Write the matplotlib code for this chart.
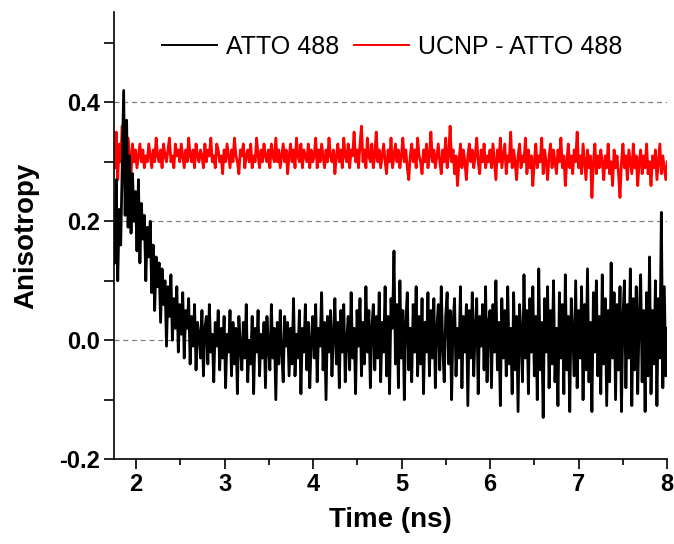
import numpy as np
from matplotlib import pyplot as plt
from matplotlib.ticker import MultipleLocator

# ATTO 488 anisotropy (1.76 ns .. 8.0 ns)
atto = [
        0.13, 0.27, 0.10, 0.22, 0.16, 0.29, 0.42, 0.21, 0.37, 0.19, 0.31, 0.18, 0.28, 0.20, 0.25,
        0.15, 0.27, 0.13, 0.23, 0.17, 0.21, 0.10, 0.19, 0.14, 0.20, 0.08, 0.16, 0.05, 0.14, 0.09,
        0.13, 0.03, 0.12, 0.06, 0.10, -0.01, 0.09, 0.04, 0.11, 0.00, 0.07, 0.02, 0.09, -0.02, 0.06,
        0.01, 0.08, -0.03, 0.05, 0.02, 0.07, -0.04, 0.04, -0.01, 0.06, -0.05, 0.03, 0.01, -0.03, 0.05,
        -0.06, 0.02, 0.04, -0.04, 0.06, -0.02, 0.01, -0.07, 0.03, -0.01, 0.05, -0.05, 0.02, -0.03, 0.04,
        -0.08, 0.01, -0.02, 0.05, -0.06, 0.03, -0.04, 0.02, -0.09, 0.04, -0.01, -0.05, 0.03, -0.03, 0.06,
        -0.07, 0.00, -0.04, 0.04, -0.09, 0.02, -0.02, 0.05, -0.06, 0.01, -0.03, 0.03, -0.08, 0.04, -0.01,
        -0.05, 0.06, -0.03, 0.02, -0.10, 0.03, -0.04, 0.05, -0.02, -0.07, 0.04, -0.01, 0.03, -0.06, 0.02,
        -0.04, 0.07, -0.06, 0.01, -0.03, 0.05, -0.09, 0.02, -0.02, 0.06, -0.05, 0.03, -0.08, 0.00, 0.04,
        -0.03, 0.06, -0.07, 0.02, -0.01, 0.08, -0.05, 0.03, -0.10, 0.04, -0.02, 0.05, -0.06, 0.01, 0.07,
        -0.04, 0.03, -0.08, 0.05, -0.02, 0.06, -0.07, 0.00, 0.04, -0.05, 0.08, -0.03, 0.02, -0.09, 0.05,
        -0.01, 0.07, -0.06, 0.03, -0.04, 0.09, -0.02, 0.05, -0.08, 0.02, 0.06, -0.05, 0.04, -0.03, 0.08,
        -0.07, 0.03, -0.02, 0.09, -0.06, 0.04, -0.09, 0.07, 0.02, 0.15, -0.04, 0.06, -0.08, 0.10, -0.03,
        0.05, -0.10, 0.03, 0.08, -0.05, 0.02, -0.07, 0.06, -0.02, 0.09, -0.06, 0.04, -0.04, 0.07, -0.09,
        0.03, -0.02, 0.08, -0.06, 0.05, -0.03, 0.07, -0.08, 0.02, 0.06, -0.05, 0.09, -0.01, -0.07, 0.04,
        0.08, -0.04, 0.05, -0.10, 0.03, 0.07, -0.06, 0.02, -0.03, 0.09, -0.08, 0.04, -0.02, 0.06, -0.11,
        0.05, -0.03, 0.08, -0.06, 0.02, 0.07, -0.09, 0.04, -0.01, 0.06, -0.05, 0.09, -0.07, 0.03, 0.05,
        -0.08, 0.06, -0.02, 0.10, -0.05, 0.03, -0.11, 0.07, -0.03, 0.05, -0.06, 0.09, -0.04, 0.02, -0.09,
        0.08, -0.05, 0.04, -0.12, 0.06, 0.01, -0.07, 0.11, -0.03, 0.05, -0.09, 0.07, -0.02, 0.09, -0.06,
        0.04, -0.10, 0.12, -0.05, 0.03, -0.13, 0.07, -0.02, 0.09, -0.08, 0.05, -0.04, 0.10, -0.07, 0.02,
        -0.11, 0.08, -0.03, 0.06, -0.09, 0.11, -0.05, 0.04, -0.12, 0.07, 0.01, -0.06, 0.10, -0.08, 0.05,
        -0.03, 0.09, -0.10, 0.06, -0.05, 0.12, -0.07, 0.03, -0.12, 0.08, -0.02, 0.10, -0.06, 0.04, -0.09,
        0.11, -0.04, 0.07, -0.11, 0.05, -0.07, 0.13, -0.03, 0.08, -0.10, 0.06, -0.05, 0.09, -0.12, 0.04,
        0.10, -0.08, 0.06, -0.03, 0.12, -0.11, 0.07, -0.05, 0.09, -0.09, 0.04, 0.11, -0.07, 0.05, -0.12,
        0.08, -0.06, 0.14, -0.09, 0.05, -0.04, 0.10, -0.11, 0.07, -0.03, 0.215, -0.08, 0.09, -0.06, 0.02,
]

# UCNP - ATTO 488 anisotropy
ucnp = [
        0.29, 0.35, 0.27, 0.33, 0.30, 0.36, 0.28, 0.32, 0.29, 0.34, 0.31, 0.28, 0.33, 0.30, 0.32,
        0.29, 0.31, 0.33, 0.30, 0.32, 0.29, 0.31, 0.30, 0.33, 0.31, 0.29, 0.32, 0.30, 0.34, 0.31,
        0.30, 0.32, 0.29, 0.33, 0.31, 0.30, 0.32, 0.34, 0.30, 0.31, 0.29, 0.33, 0.31, 0.32, 0.30,
        0.33, 0.31, 0.29, 0.32, 0.30, 0.34, 0.31, 0.30, 0.32, 0.29, 0.33, 0.31, 0.30, 0.32, 0.31,
        0.29, 0.33, 0.30, 0.32, 0.31, 0.34, 0.30, 0.31, 0.29, 0.33, 0.32, 0.30, 0.31, 0.28, 0.32,
        0.30, 0.33, 0.31, 0.29, 0.32, 0.30, 0.34, 0.31, 0.30, 0.28, 0.32, 0.31, 0.33, 0.29, 0.31,
        0.32, 0.30, 0.33, 0.29, 0.31, 0.30, 0.34, 0.31, 0.29, 0.32, 0.30, 0.33, 0.31, 0.30, 0.32,
        0.29, 0.33, 0.31, 0.30, 0.34, 0.30, 0.32, 0.29, 0.31, 0.33, 0.30, 0.32, 0.28, 0.31, 0.33,
        0.30, 0.32, 0.29, 0.34, 0.31, 0.30, 0.33, 0.29, 0.32, 0.31, 0.30, 0.33, 0.29, 0.32, 0.30,
        0.31, 0.34, 0.29, 0.32, 0.30, 0.33, 0.31, 0.29, 0.32, 0.30, 0.34, 0.31, 0.30, 0.32, 0.28,
        0.31, 0.33, 0.30, 0.32, 0.29, 0.34, 0.31, 0.30, 0.33, 0.29, 0.32, 0.31, 0.35, 0.30, 0.32,
        0.29, 0.33, 0.36, 0.30, 0.32, 0.29, 0.34, 0.31, 0.30, 0.33, 0.29, 0.31, 0.35, 0.30, 0.32,
        0.29, 0.31, 0.33, 0.30, 0.28, 0.32, 0.30, 0.34, 0.29, 0.31, 0.33, 0.30, 0.32, 0.29, 0.31,
        0.34, 0.30, 0.32, 0.29, 0.27, 0.31, 0.33, 0.30, 0.32, 0.29, 0.34, 0.31, 0.30, 0.28, 0.32,
        0.30, 0.33, 0.29, 0.31, 0.35, 0.30, 0.32, 0.29, 0.31, 0.33, 0.30, 0.28, 0.32, 0.30, 0.34,
        0.29, 0.31, 0.36, 0.30, 0.32, 0.28, 0.31, 0.26, 0.30, 0.33, 0.29, 0.32, 0.30, 0.27, 0.31,
        0.33, 0.30, 0.32, 0.29, 0.31, 0.34, 0.30, 0.28, 0.32, 0.30, 0.33, 0.29, 0.31, 0.30, 0.32,
        0.29, 0.33, 0.30, 0.27, 0.32, 0.30, 0.34, 0.29, 0.31, 0.33, 0.28, 0.31, 0.30, 0.35, 0.29,
        0.32, 0.30, 0.27, 0.31, 0.33, 0.29, 0.31, 0.30, 0.34, 0.28, 0.32, 0.29, 0.31, 0.26, 0.30,
        0.33, 0.29, 0.31, 0.30, 0.34, 0.28, 0.32, 0.30, 0.27, 0.31, 0.33, 0.29, 0.32, 0.30, 0.28,
        0.32, 0.30, 0.34, 0.29, 0.31, 0.26, 0.30, 0.33, 0.29, 0.31, 0.28, 0.32, 0.30, 0.35, 0.29,
        0.31, 0.28, 0.33, 0.30, 0.27, 0.32, 0.29, 0.31, 0.24, 0.30, 0.33, 0.28, 0.31, 0.29, 0.32,
        0.30, 0.27, 0.31, 0.29, 0.33, 0.28, 0.30, 0.26, 0.32, 0.29, 0.31, 0.28, 0.24, 0.30, 0.33,
        0.29, 0.31, 0.27, 0.32, 0.30, 0.28, 0.33, 0.29, 0.31, 0.26, 0.30, 0.32, 0.28, 0.31, 0.29,
        0.33, 0.28, 0.30, 0.26, 0.31, 0.29, 0.32, 0.27, 0.30, 0.33, 0.28, 0.31, 0.29, 0.27, 0.30,
]

t_start, t_end = 1.76, 8.0
time_atto = np.linspace(t_start, t_end, len(atto))
time_ucnp = np.linspace(t_start, t_end, len(ucnp))

plt.rcParams['font.family'] = ['Liberation Sans', 'DejaVu Sans']

fig = plt.figure(figsize=(6.74, 5.44), dpi=100)
ax = fig.add_axes([0.169, 0.156, 0.821, 0.822])

for y in (0.4, 0.2, 0.0):
        ax.axhline(y, color='gray', linestyle=(0, (4, 3)), linewidth=0.9, zorder=0)

ax.plot(time_ucnp, ucnp, color='red', linewidth=2.0, label='UCNP - ATTO 488', zorder=2)
ax.plot(time_atto, atto, color='black', linewidth=2.0, label='ATTO 488', zorder=3)

ax.set_xlim(1.75, 8.0)
ax.set_ylim(-0.2, 0.552)
ax.xaxis.set_major_locator(MultipleLocator(1))
ax.xaxis.set_minor_locator(MultipleLocator(0.5))
ax.yaxis.set_minor_locator(MultipleLocator(0.1))
ax.set_yticks([-0.2, 0.0, 0.2, 0.4])
ax.set_yticklabels(['-0.2', '0.0', '0.2', '0.4'])

ax.spines['top'].set_visible(False)
ax.spines['right'].set_visible(False)
for s in ('left', 'bottom'):
        ax.spines[s].set_linewidth(1.2)

ax.tick_params(which='major', direction='out', length=7, width=1.2, labelsize=17, pad=3)
ax.tick_params(axis='x', which='minor', direction='out', length=4, width=1.2)
ax.tick_params(axis='y', which='minor', direction='out', length=7, width=1.2)
for lab in ax.get_xticklabels() + ax.get_yticklabels():
        lab.set_fontweight('bold')

ax.set_xlabel('Time (ns)', fontsize=20, fontweight='bold', labelpad=8)
ax.set_ylabel('Anisotropy', fontsize=20, fontweight='bold', labelpad=14)

handles, labels = ax.get_legend_handles_labels()
leg = ax.legend(handles[::-1], labels[::-1], loc='center left',
                bbox_to_anchor=(162 / 674, 1 - 47 / 544), bbox_transform=fig.transFigure,
                ncol=2, frameon=False, fontsize=18, handlelength=2.2,
                columnspacing=0.6, handletextpad=0.36, borderpad=0, borderaxespad=0)
for line in leg.get_lines():
        line.set_linewidth(1.4)

fig.savefig('out.png', dpi=100)
